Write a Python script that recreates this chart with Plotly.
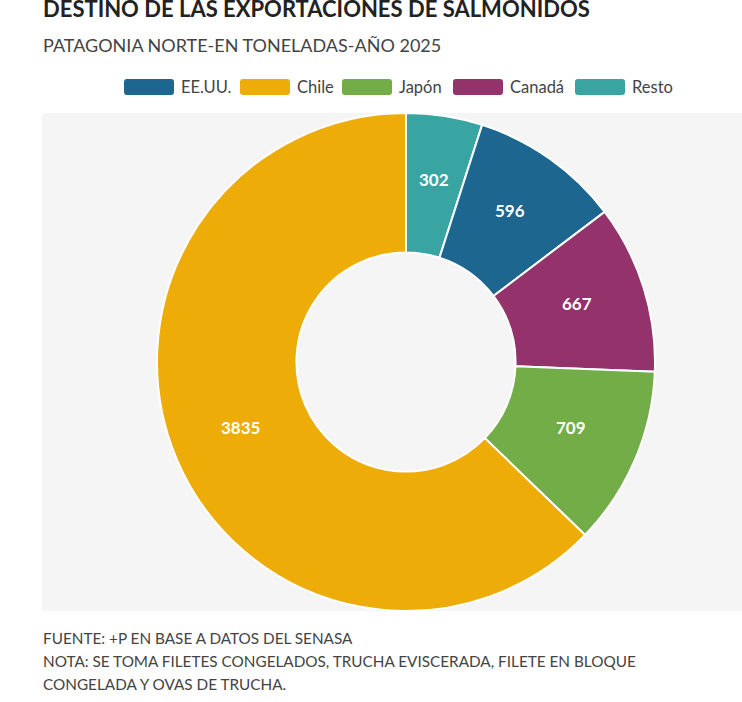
import math
import plotly.graph_objects as go

# data, clockwise from 12 o'clock
labels = ["Resto", "EE.UU.", "Canadá", "Japón", "Chile"]
values = [302, 596, 667, 709, 3835]
colors = {"EE.UU.": "#1c6690", "Chile": "#edac07", "Japón": "#72ad48",
          "Canadá": "#93326b", "Resto": "#38a5a2"}
legend_order = ["EE.UU.", "Chile", "Japón", "Canadá", "Resto"]

title = "DESTINO DE LAS EXPORTACIONES DE SALMONIDOS"
subtitle = "PATAGONIA NORTE-EN TONELADAS-AÑO 2025"
notes = ["FUENTE: +P EN BASE A DATOS DEL SENASA",
         "NOTA: SE TOMA FILETES CONGELADOS, TRUCHA EVISCERADA, FILETE EN BLOQUE",
         "CONGELADA Y OVAS DE TRUCHA."]

W, H = 742, 702
FONT = "Lato"


def px(x):
    return x / W


def py(y):
    return 1 - y / H


cx, cy, r = 406, 362, 249
HOLE = 0.44

fig = go.Figure(go.Pie(
    labels=labels, values=values, sort=False, direction="clockwise",
    hole=HOLE, rotation=0,
    marker=dict(colors=[colors[l] for l in labels],
                line=dict(color="white", width=2)),
    textinfo="none",
    hoverinfo="label+value", showlegend=False,
    domain=dict(x=[px(cx - r), px(cx + r)], y=[py(cy + r), py(cy - r)]),
))

shapes = [dict(type="rect", xref="paper", yref="paper", layer="below",
               x0=px(42), x1=1, y0=py(611), y1=py(113),
               fillcolor="#f5f5f5", line=dict(width=0))]
annotations = []

# value labels at the middle of each ring segment
total = sum(values)
run = 0
r_mid = r * (1 + HOLE) / 2
for lab, v in zip(labels, values):
    a = 2 * math.pi * (run + v / 2) / total
    run += v
    annotations.append(dict(text=f"<b>{v}</b>", xref="paper", yref="paper",
                            x=px(cx + r_mid * math.sin(a)), y=py(cy - r_mid * math.cos(a)),
                            xanchor="center", yanchor="middle", showarrow=False, yshift=5,
                            font=dict(family=FONT, size=17, color="white")))

# hand-drawn legend with wide rounded swatches
legend_x = [124, 240, 342, 453, 575]
ly = 87
for name, x0 in zip(legend_order, legend_x):
    x1, y0, y1 = x0 + 50, ly - 8, ly + 8
    rr = 3
    path = (f"M {px(x0 + rr)} {py(y0)} L {px(x1 - rr)} {py(y0)} "
            f"Q {px(x1)} {py(y0)} {px(x1)} {py(y0 + rr)} L {px(x1)} {py(y1 - rr)} "
            f"Q {px(x1)} {py(y1)} {px(x1 - rr)} {py(y1)} L {px(x0 + rr)} {py(y1)} "
            f"Q {px(x0)} {py(y1)} {px(x0)} {py(y1 - rr)} L {px(x0)} {py(y0 + rr)} "
            f"Q {px(x0)} {py(y0)} {px(x0 + rr)} {py(y0)} Z")
    shapes.append(dict(type="path", xref="paper", yref="paper", path=path,
                       fillcolor=colors[name], line=dict(width=0)))
    annotations.append(dict(text=name, x=px(x1 + 5), y=py(ly), xref="paper", yref="paper",
                            xanchor="left", yanchor="middle", showarrow=False,
                            font=dict(family=FONT, size=16.5, color="#444")))

annotations.append(dict(text=f"<b>{title}</b>", x=px(41), y=py(8.5), xref="paper", yref="paper",
                        xanchor="left", yanchor="middle", showarrow=False,
                        font=dict(family=FONT, size=22, color="#222")))
annotations.append(dict(text=subtitle, x=px(41), y=py(45), xref="paper", yref="paper",
                        xanchor="left", yanchor="middle", showarrow=False,
                        font=dict(family=FONT, size=18, color="#444")))
for i, line in enumerate(notes):
    annotations.append(dict(text=line, x=px(41), y=py(638 + i * 23), xref="paper", yref="paper",
                            xanchor="left", yanchor="middle", showarrow=False,
                            font=dict(family=FONT, size=15.3, color="#444")))

fig.update_layout(width=W, height=H, margin=dict(l=0, r=0, t=0, b=0),
                  paper_bgcolor="white", shapes=shapes, annotations=annotations,
                  font=dict(family=FONT))
# drop the default page margin so the figure sits at the window corner
fig.write_html("out.html", config={"displayModeBar": False},
               post_script="document.body.style.margin = '0';")
